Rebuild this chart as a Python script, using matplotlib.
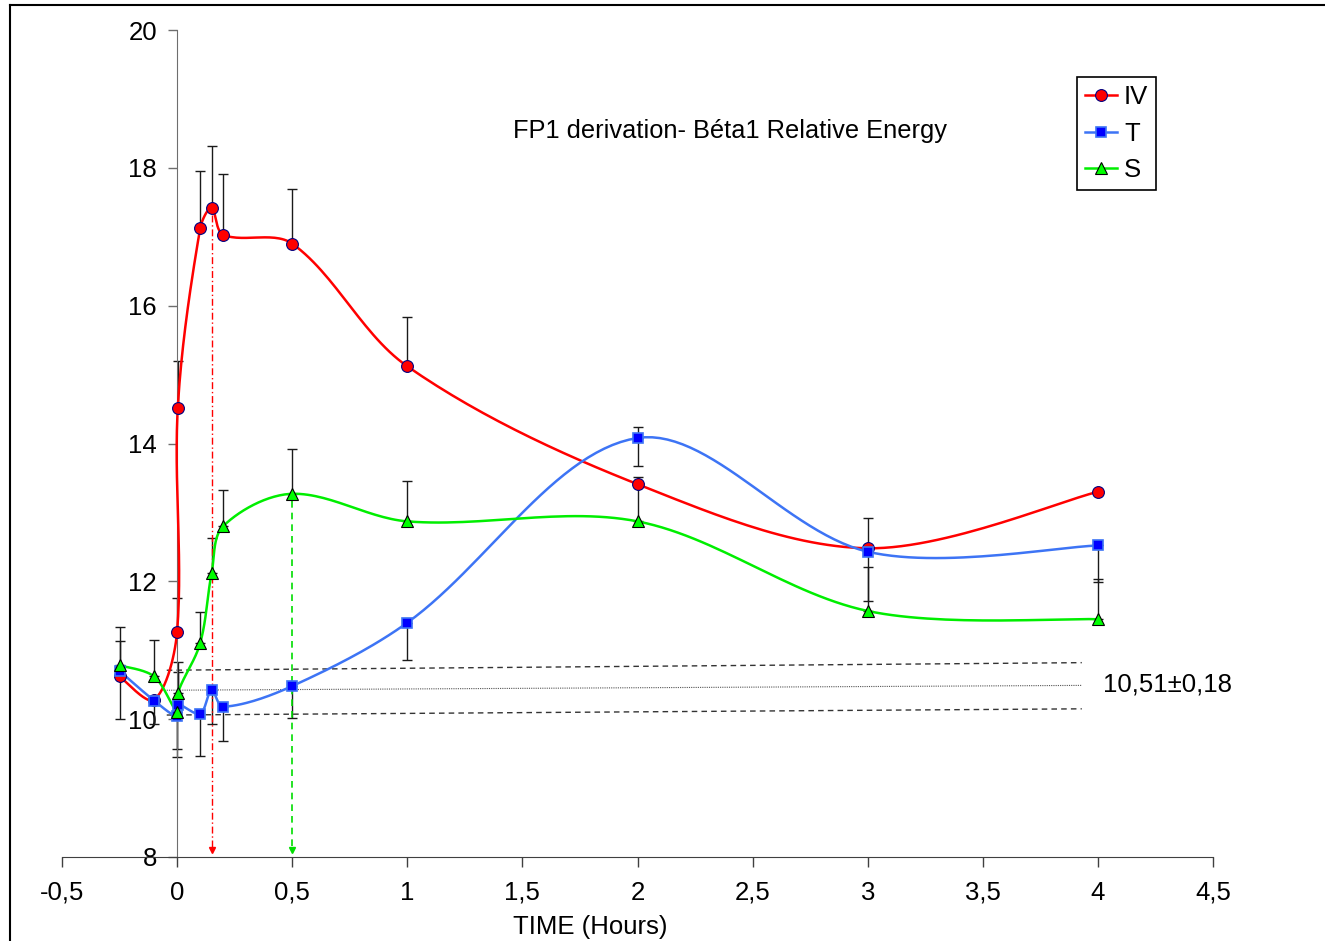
import numpy as np
import matplotlib
matplotlib.use("Agg")
import matplotlib.pyplot as plt
from matplotlib.lines import Line2D
from matplotlib.ticker import FixedLocator, FuncFormatter

plt.rcParams["font.family"] = ["Liberation Sans", "DejaVu Sans"]

# time points (hours); the two points at 0 are just a few seconds apart
hours = [-0.25, -0.1, 0.0, 0.003, 0.1, 0.15, 0.2, 0.5, 1.0, 2.0, 3.0, 4.0]

iv = [10.62, 10.28, 11.27, 14.52, 17.12, 17.42, 17.03, 16.90, 15.12, 13.41, 12.48, 13.30]
iv_up = [0, 0, 0.49, 0.67, 0.83, 0.90, 0.88, 0.79, 0.72, 0.11, 0.44, 0]
iv_dn = [0.62, 0, 0, 0, 0, 0, 0, 0, 0, 0.54, 0, 0]

t = [10.70, 10.27, 10.04, 10.21, 10.08, 10.42, 10.18, 10.48, 11.40, 14.08, 12.43, 12.52]
t_up = [0.44, 0, 0, 0.48, 0, 0, 0, 0, 0, 0.16, 0, 0]
t_dn = [0, 0.34, 0.59, 0, 0.62, 0.49, 0.49, 0.46, 0.54, 0.40, 0.72, 0.53]

s = [10.78, 10.62, 10.11, 10.38, 11.10, 12.12, 12.80, 13.27, 12.87, 12.87, 11.57, 11.45]
s_up = [0.56, 0.53, 0, 0.45, 0.46, 0.51, 0.53, 0.65, 0.59, 0, 0.64, 0.58]
s_dn = [0, 0, 0.54, 0, 0, 0, 0, 0, 0, 0, 0, 0]

# baseline band (drawn slightly tilted as in the original)
band_x = [-0.045, 3.93]
band_hi = [10.71, 10.82]
band_mid = [10.42, 10.49]
band_lo = [10.06, 10.15]
band_label = "10,51±0,18"

x_ticks = [-0.5, 0, 0.5, 1, 1.5, 2, 2.5, 3, 3.5, 4, 4.5]
y_ticks = [8, 10, 12, 14, 16, 18, 20]

W, H = 1325, 941
AX_L, AX_R, AX_T, AX_B = 62, 1213, 30, 857
SX = (AX_R - AX_L) / 5.0   # px per hour
SY = (AX_B - AX_T) / 12.0  # px per unit
FS = 18.5


def smooth(xs, ys, n=30):
    # excel-like bezier smoothing, done in pixel space
    P = np.column_stack([np.asarray(xs) * SX, np.asarray(ys) * SY])
    out = [P[0]]
    m = len(P)
    for i in range(m - 1):
        p0 = P[i - 1] if i > 0 else P[i]
        p1, p2 = P[i], P[i + 1]
        p3 = P[i + 2] if i + 2 < m else P[i + 1]
        d01 = np.hypot(*(p1 - p0)); d12 = np.hypot(*(p2 - p1)); d23 = np.hypot(*(p3 - p2))
        f1 = d12 / (d01 + d12) / 3 if d01 > 0 else 1 / 6
        f2 = d12 / (d12 + d23) / 3 if d23 > 0 else 1 / 6
        c1 = p1 + (p2 - p0) * f1
        c2 = p2 - (p3 - p1) * f2
        tt = np.linspace(0, 1, n)[1:, None]
        seg = ((1 - tt) ** 3) * p1 + 3 * ((1 - tt) ** 2) * tt * c1 + 3 * (1 - tt) * tt ** 2 * c2 + tt ** 3 * p2
        out.extend(seg)
    out = np.array(out)
    return out[:, 0] / SX, out[:, 1] / SY


fig = plt.figure(figsize=(W / 100, H / 100), dpi=100)
ax = fig.add_axes([AX_L / W, 1 - AX_B / H, (AX_R - AX_L) / W, (AX_B - AX_T) / H])
ax.set_xlim(-0.5, 4.5)
ax.set_ylim(8, 20)

AXC = "#6e6e6e"
for k in ("top", "right"):
    ax.spines[k].set_visible(False)
ax.spines["left"].set_position(("data", 0))
ax.spines["left"].set_color(AXC)
ax.spines["bottom"].set_color("#404040")
ax.xaxis.set_major_locator(FixedLocator(x_ticks))
ax.yaxis.set_major_locator(FixedLocator(y_ticks))
ax.xaxis.set_major_formatter(FuncFormatter(lambda v, p: f"{v:g}".replace(".", ",")))
ax.tick_params(axis="x", direction="out", length=7, width=1, color="#404040", labelsize=FS, pad=10)
ax.tick_params(axis="y", direction="out", length=6.5, width=1, color=AXC, labelsize=FS, pad=8)

# baseline band
ax.plot(band_x, band_hi, color="#333333", lw=1, ls=(0, (4, 3)), zorder=1)
ax.plot(band_x, band_lo, color="#333333", lw=1, ls=(0, (4, 3)), zorder=1)
ax.plot(band_x, band_mid, color="#555555", lw=0.8, ls=(0, (1, 1)), zorder=1)
ax.text(4.02, 10.51, band_label, fontsize=FS, va="center", ha="left")

series = [
    ("IV", iv, iv_up, iv_dn, "#ff0000", dict(marker="o", ms=8.5, mfc="#ff0000", mec="#000080", mew=0.8)),
    ("T", t, t_up, t_dn, "#3d74f5", dict(marker="s", ms=7, mfc="#0000ff", mec="#3d74f5", mew=1.2)),
    ("S", s, s_up, s_dn, "#00ee00", dict(marker="^", ms=9, mfc="#00ff00", mec="#000000", mew=0.8)),
]

hx = np.array(hours)
for name, y, up, dn, col, mk in series:
    y = np.array(y); up = np.array(up); dn = np.array(dn)
    for err, sign in ((up, 1), (dn, -1)):
        m = err > 0
        ye = [np.zeros(m.sum()), err[m]] if sign > 0 else [err[m], np.zeros(m.sum())]
        ax.errorbar(hx[m], y[m], yerr=ye, fmt="none", ecolor="#1a1a1a", elinewidth=1,
                    capsize=3.5, capthick=1, zorder=2)
    xs, ys = smooth(hours, y)
    ax.plot(xs, ys, color=col, lw=1.8, zorder=3)
    ax.plot(hours, y, ls="none", zorder=4, **mk)

# vertical marker arrows
ax.plot([0.15, 0.15], [17.32, 8.12], color="#ff0000", lw=1, ls=(0, (5, 2, 1, 2)), zorder=2)
ax.plot([0.15], [8.1], marker="v", ms=4.5, color="#ff0000", zorder=2)
ax.plot([0.5, 0.5], [13.17, 8.12], color="#00dd00", lw=1.2, ls=(0, (4, 3)), zorder=2)
ax.plot([0.5], [8.1], marker="v", ms=4.5, color="#00dd00", zorder=2)

ax.text(2.4, 18.53, "FP1 derivation- Béta1 Relative Energy", fontsize=18.3, ha="center", va="center")
fig.text(590 / W, 1 - 927 / H, "TIME (Hours)", fontsize=FS, ha="center", va="center")

handles = [Line2D([], [], color=col, lw=1.8, **mk) for _, _, _, _, col, mk in series]
leg = fig.legend(handles, [sr[0] for sr in series], loc="upper left",
                 bbox_to_anchor=(1077 / W, 1 - 77 / H), fontsize=FS, frameon=True,
                 fancybox=False, edgecolor="black", framealpha=1, handlelength=1.25,
                 handletextpad=0.28, borderpad=0.3, labelspacing=0.5, borderaxespad=0)
leg.get_frame().set_linewidth(1.2)

# outer frame (only top and left edges are visible)
fig.add_artist(Line2D([10 / W, 1.0], [1 - 5 / H, 1 - 5 / H], color="black", lw=1.5))
fig.add_artist(Line2D([10 / W, 10 / W], [1 - 5 / H, 0.0], color="black", lw=1.5))

fig.savefig("out.png", dpi=100, facecolor="white")
